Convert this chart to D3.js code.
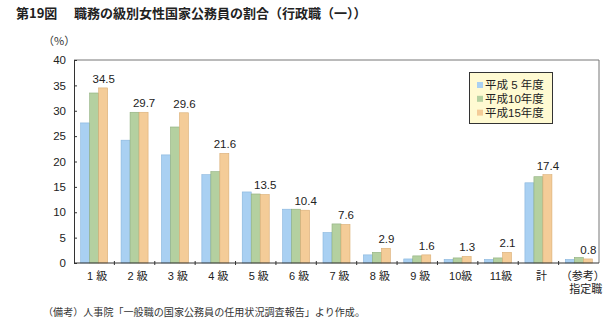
<!DOCTYPE html>
<html><head><meta charset="utf-8">
<script src="https://cdn.jsdelivr.net/npm/d3@7"></script>
<style>
body{margin:0;background:#fff;}
text{font-family:"Liberation Sans",Arial,"Noto Sans CJK JP",sans-serif;}
.cjk{font-family:"Noto Sans CJK JP",sans-serif;}
</style></head>
<body>
<svg id="chart" width="613" height="329"></svg>
<script>
const categories = ["1 級","2 級","3 級","4 級","5 級","6 級","7 級","8 級","9 級","10級","11級","計","（参考）\n指定職"];
const seriesNames = ["平成 5 年度","平成10年度","平成15年度"];
const h5  = [27.6, 24.2, 21.3, 17.4, 14.0, 10.6, 6.0, 1.6, 0.8, 0.7, 0.7, 15.8, 0.7];
const h10 = [33.5, 29.7, 26.8, 18.0, 13.6, 10.6, 7.7, 2.1, 1.4, 1.0, 1.0, 17.0, 1.1];
const h15 = [34.5, 29.7, 29.6, 21.6, 13.5, 10.4, 7.6, 2.9, 1.6, 1.3, 2.1, 17.4, 0.8];
const labels = ["34.5","29.7","29.6","21.6","13.5","10.4","7.6","2.9","1.6","1.3","2.1","17.4","0.8"];
const yTicks = [0,5,10,15,20,25,30,35,40];
const colors = ["#a9d0f2","#b4d0a0","#f4cc98"];
const strokes = ["#86b4dc","#8fae7c","#d9ad74"];

const svg = d3.select("#chart");
const L=74, R=599, T=60, B=263;
const x = d3.scaleBand().domain(d3.range(categories.length)).range([L,R]).paddingInner(0).paddingOuter(0);
const y = d3.scaleLinear().domain([0,40]).range([B,T]);
const bw = 9;
const series = [h5,h10,h15];

// title
svg.append("text").attr("class","cjk").attr("x",16).attr("y",18).attr("font-size",13).attr("font-weight","bold").attr("fill","#222").text("第19図");
svg.append("text").attr("class","cjk").attr("x",74).attr("y",18).attr("font-size",13).attr("font-weight","bold").attr("fill","#222").text("職務の級別女性国家公務員の割合（行政職（一））");
svg.append("text").attr("class","cjk").attr("x",43).attr("y",45).attr("font-size",11).attr("fill","#333").text("（%）");

// frame
svg.append("line").attr("x1",L).attr("x2",R).attr("y1",T).attr("y2",T).attr("stroke","#777").attr("stroke-width",1);
svg.append("line").attr("x1",R).attr("x2",R).attr("y1",T).attr("y2",B).attr("stroke","#777").attr("stroke-width",1);

// bars
series.forEach((s,si)=>{
  svg.append("g").selectAll("rect").data(s).enter().append("rect")
    .attr("x",(d,i)=>x(i)+x.bandwidth()/2-1.5*bw+si*bw)
    .attr("y",d=>y(d))
    .attr("width",bw)
    .attr("height",d=>B-y(d))
    .attr("fill",colors[si])
    .attr("stroke",strokes[si]).attr("stroke-width",0.6);
});

// value labels
svg.append("g").selectAll("text").data(h15).enter().append("text")
  .attr("x",(d,i)=>x(i)+x.bandwidth()/2+bw+0.5)
  .attr("y",d=>y(d)-5)
  .attr("text-anchor","middle").attr("font-size",11.5).attr("fill","#222")
  .text((d,i)=>labels[i]);

// y axis
const ya = svg.append("g").attr("transform",`translate(${L},0)`)
  .call(d3.axisLeft(y).tickValues(yTicks).tickSize(-3).tickPadding(8));
ya.select(".domain").attr("stroke","#333");
ya.selectAll(".tick line").attr("stroke","#333");
ya.selectAll("text").attr("font-size",11.5).attr("fill","#222").attr("font-family","Liberation Sans, Arial, sans-serif");

// x axis
const xa = svg.append("g").attr("transform",`translate(0,${B})`);
xa.append("line").attr("x1",L).attr("x2",R).attr("stroke","#333");
xa.selectAll("line.tk").data(d3.range(1,categories.length)).enter().append("line").attr("class","tk")
  .attr("x1",d=>x(d)).attr("x2",d=>x(d)).attr("y1",-2).attr("y2",2).attr("stroke","#333");
categories.forEach((c,i)=>{
  const parts = c.split("\n");
  parts.forEach((p,j)=>{
    xa.append("text")
      .attr("x",x(i)+x.bandwidth()/2+(parts.length>1?(j==0?4:7):3))
      .attr("y",17+j*12.5).attr("text-anchor","middle").attr("font-size",11).attr("fill","#222").text(p);
  });
});

// legend
const lg = svg.append("g");
lg.append("rect").attr("x",469.5).attr("y",72.5).attr("width",83).attr("height",51).attr("fill","#fffad2").attr("stroke","#333");
seriesNames.forEach((n,i)=>{
  const cy = 85+i*13.8;
  lg.append("rect").attr("x",477).attr("y",cy-3).attr("width",6).attr("height",6).attr("fill",colors[i]);
  lg.append("text").attr("x",485).attr("y",cy+4).attr("font-size",11.5).attr("fill","#222").text(n);
});

// footnote
svg.append("text").attr("class","cjk").attr("x",43).attr("y",316).attr("font-size",10).attr("fill","#333")
  .attr("textLength",322).attr("lengthAdjust","spacingAndGlyphs")
  .text("（備考）人事院「一般職の国家公務員の任用状況調査報告」より作成。");
</script>
</body></html>
